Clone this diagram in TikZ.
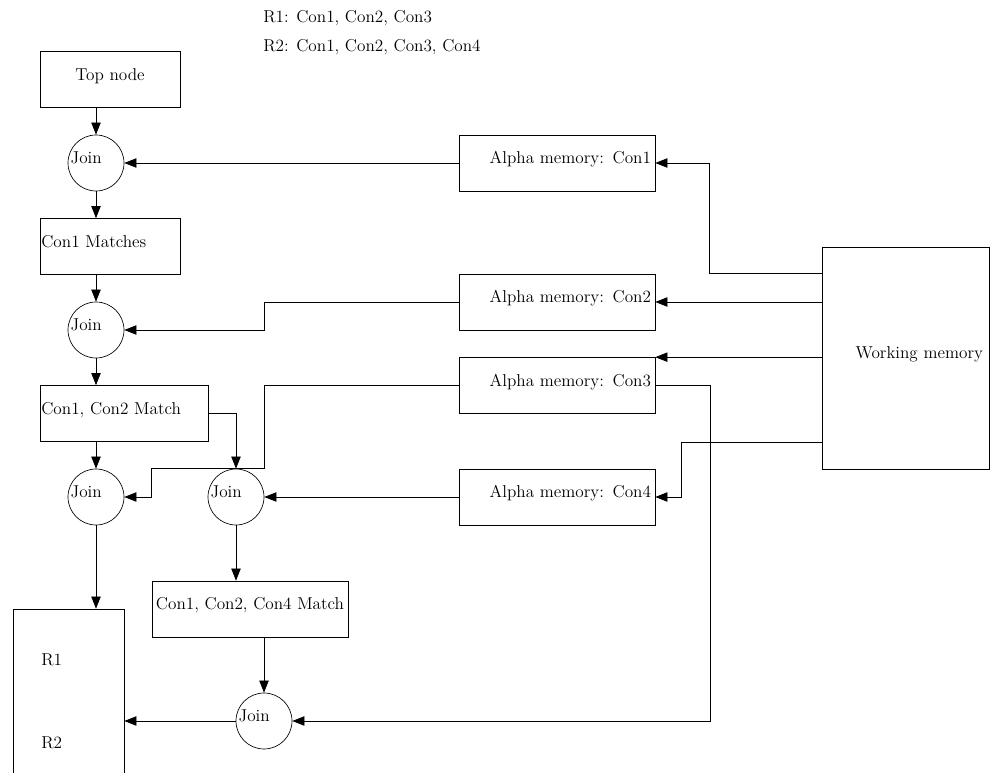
\documentclass[tikz,border=0pt]{standalone}
\usepackage{amsmath}
\usepackage{tikz}
\usetikzlibrary{arrows.meta}

\begin{document}
\begin{tikzpicture}[x=0.75pt, y=-0.75pt, line width=0.5pt,
  font=\fontsize{12.9pt}{15pt}\selectfont,
  >={Triangle[length=9pt,width=7pt]},
  box/.style={draw, minimum height=42pt, inner ysep=0pt, text height=9pt, text depth=7.7pt},
  alphabox/.style={box, text width=141pt, inner xsep=3pt, align=right},
  joinnode/.style={draw, circle, minimum size=42pt, inner sep=0pt, text width=38pt, align=left, text height=9pt, text depth=7.7pt},
  txt/.style={anchor=west, inner sep=0pt}]

\useasboundingbox (0,0) rectangle (990,773);
\clip (0,0) rectangle (990,773);

\node[txt] (rule1) at (263,18) {R1: Con1, Con2, Con3};
\node[txt] (rule2) at (263,47) {R2: Con1, Con2, Con3, Con4};

\node[box, text width=101pt, inner xsep=2pt, align=center] (top) at (110,79.5) {Top node};
\node[joinnode] (join1) at (96,163) {Join};
\node[box, text width=103pt, inner xsep=1pt, align=left] (m1) at (110,246.5) {Con1 Matches};
\node[joinnode] (join2) at (96,330) {Join};
\node[box, text width=124pt, inner xsep=1pt, align=left] (m12) at (124,413.5) {Con1, Con2 Match};
\node[joinnode] (join3) at (96,497) {Join};
\node[joinnode] (join4) at (236,497) {Join};
\node[box, minimum width=147pt, inner xsep=1pt] (m124) at (250,609) {Con1, Con2, Con4 Match};
\node[joinnode] (join5) at (264,721) {Join};

\node[draw, minimum width=83.25pt, minimum height=168pt] (rules) at (68.5,721) {};
\node[txt] (r1lbl) at (41,660) {R1};
\node[txt] (r2lbl) at (41,743) {R2};

\node[alphabox] (a1) at (557,163) {Alpha memory: Con1};
\node[alphabox] (a2) at (557,302) {Alpha memory: Con2};
\node[alphabox] (a3) at (557,385.5) {Alpha memory: Con3};
\node[alphabox] (a4) at (557,497) {Alpha memory: Con4};

\node[box, text width=116.25pt, inner xsep=4.5pt, align=right, minimum height=166.5pt] (wm) at (905.5,358) {Working memory};

\draw[->] (top.south -| join1) -- (join1.north);
\draw[->] (join1.south) -- (join1 |- m1.north);
\draw[->] (m1.south -| join2) -- (join2.north);
\draw[->] (join2.south) -- (join2 |- m12.north);
\draw[->] (m12.south -| join3) -- (join3.north);
\draw[->] (m12.east) -| (join4.north);
\draw[->] (join3.south) -- (join3 |- rules.north);
\draw[->] (join4.south) -- (join4 |- m124.north);
\draw[->] (m124.south -| join5) -- (join5.north);
\draw[->] (join5.west) -- (rules.east);

\draw[->] (a1.west) -- (join1.east);
\draw[->] (a2.west) -| (join4.east |- join2) -- (join2.east);
\draw[->] (a3.west) -| (join4.east |- join4.north) -| (m124.west |- join3) -- (join3.east);
\draw[->] (a4.west) -- (join4.east);
\draw[->] (a3.east) -- ++(55,0) |- (join5.east);

\draw[->] (wm.west |- a2.north) -- ++(-112,0) |- (a1.east);
\draw[->] (wm.west |- a2) -- (a2.east);
\draw[->] (wm.west |- a3.north) -- (a3.north east);
\draw[->] (wm.south west) ++(0,-27) -- ++(-140,0) |- (a4.east);
\end{tikzpicture}
\end{document}
